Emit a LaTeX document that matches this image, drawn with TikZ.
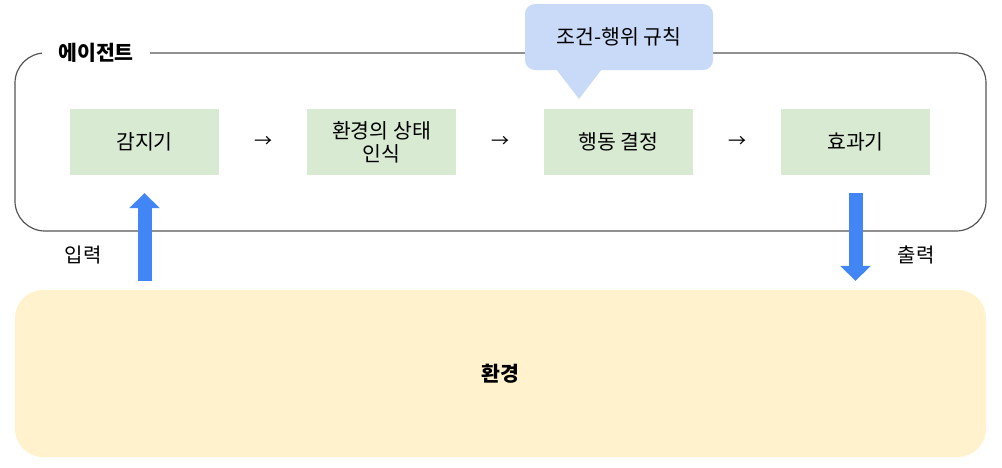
\documentclass[tikz,border=0pt]{standalone}
\usepackage{fontspec}
\setmainfont{Noto Sans CJK KR}
\usetikzlibrary{arrows.meta,calc}
\definecolor{boxgreen}{HTML}{D9EAD3}
\definecolor{calloutblue}{HTML}{C9DAF8}
\definecolor{envyellow}{HTML}{FFF2CC}
\definecolor{arrowblue}{HTML}{4285F4}
\definecolor{framegray}{HTML}{555555}
\tikzset{
  stepbox/.style={fill=boxgreen, minimum width=149pt, minimum height=66pt, inner sep=0pt, align=center, font=\fontsize{20.5}{24}\selectfont},
  flowsym/.style={font=\fontsize{18}{21}\selectfont},
  lbl/.style={font=\fontsize{20}{24}\selectfont},
  bigarrow/.style={draw=arrowblue, line width=14pt, -{Triangle[width=30pt,length=15pt]}},
}
\begin{document}
\begin{tikzpicture}[x=1pt,y=-1pt]
\useasboundingbox (0,0) rectangle (1002,467);
% agent frame
\draw[framegray, line width=1.2pt, rounded corners=30pt] (15,53) rectangle (986,231);
\node[fill=white, inner xsep=16pt, inner ysep=2pt, font=\bfseries\fontsize{20.5}{24}\selectfont] (agent) at (96,53) {에이전트};
% environment
\node[fill=envyellow, rounded corners=28pt, minimum width=971pt, minimum height=167pt, inner sep=0pt, font=\bfseries\fontsize{20.5}{24}\selectfont] (env) at (500.5,373.5) {환경};
% steps
\node[stepbox] (s1) at (144.5,142) {감지기};
\node[stepbox] (s2) at (381.5,142) {환경의 상태\\[-1pt]인식};
\node[stepbox] (s3) at (618.5,142) {행동 결정};
\node[stepbox] (s4) at (855.5,142) {효과기};
\node[flowsym] (a1) at ($(s1.east)!0.5!(s2.west)$) {→};
\node[flowsym] (a2) at ($(s2.east)!0.5!(s3.west)$) {→};
\node[flowsym] (a3) at ($(s3.east)!0.5!(s4.west)$) {→};
% callout
\fill[calloutblue, rounded corners=10pt] (525,4) rectangle (713,70);
\fill[calloutblue] (556,69) -- (602,69) -- (579,99) -- cycle;
\node[font=\fontsize{20.5}{24}\selectfont] (rule) at (619,37) {조건-행위 규칙};
% input / output
\draw[bigarrow] ([yshift=9pt]env.north -| s1.south) -- ([yshift=-18pt]s1.south);
\draw[bigarrow] ([yshift=-18pt]s4.south) -- ([yshift=9pt]env.north -| s4.south);
\node[lbl] (in) at (83,255) {입력};
\node[lbl] (out) at (916,255) {출력};
\end{tikzpicture}
\end{document}
